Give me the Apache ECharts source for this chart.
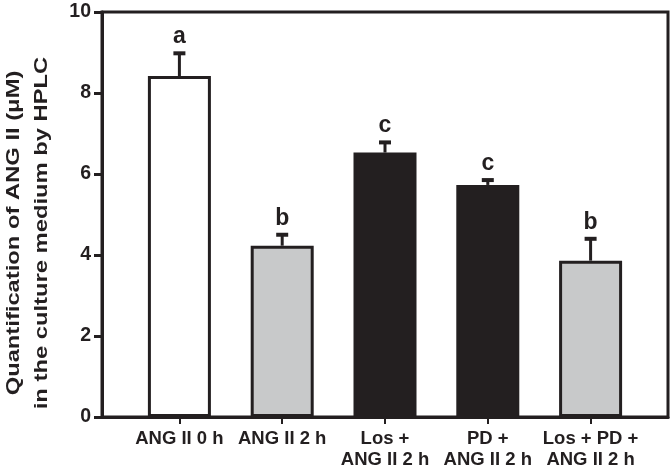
<!DOCTYPE html>
<html>
<head>
<meta charset="utf-8">
<script src="https://cdn.jsdelivr.net/npm/echarts@6/dist/echarts.min.js"></script>
<style>html,body{margin:0;padding:0;background:#fff;}#c{width:671px;height:474px;}</style>
</head>
<body>
<div id="c"></div>
<script>
var categories = ['ANG II 0 h', 'ANG II 2 h', 'Los +\nANG II 2 h', 'PD +\nANG II 2 h', 'Los + PD +\nANG II 2 h'];
var means = [8.42, 4.23, 6.53, 5.73, 3.86];
var errors = [0.56, 0.27, 0.25, 0.12, 0.54];
var letters = ['a', 'b', 'c', 'c', 'b'];
var fills = ['#ffffff', '#c8c9ca', '#231f20', '#231f20', '#c8c9ca'];
var yTicks = [0, 2, 4, 6, 8, 10];
var yTitle = 'Quantification of ANG II (μM)\nin the culture medium by HPLC';

var ink = '#231f20';
var font = 'Liberation Sans, Arial, sans-serif';
var chart = echarts.init(document.getElementById('c'));

var errData = means.map(function (m, i) { return [i, m, m + errors[i], letters[i]]; });

chart.setOption({
  animation: false,
  grid: [
    { left: 102, right: 3, top: 12, bottom: 57, show: true, borderColor: ink, borderWidth: 3, backgroundColor: 'transparent' },
    { left: 128, right: 29, top: 12, bottom: 57 }
  ],
  graphic: [
    { type: 'text', x: 28, y: 233, rotation: Math.PI / 2, scaleX: 1.32, scaleY: 1,
      style: { text: yTitle, fill: ink, font: 'bold 18px ' + font, lineHeight: 28, align: 'center', verticalAlign: 'middle' } }
  ],
  xAxis: [
    { gridIndex: 0, type: 'value', min: 0, max: 1, axisLine: { show: true, lineStyle: { color: ink, width: 3 } }, axisTick: { show: false }, axisLabel: { show: false }, splitLine: { show: false } },
    { gridIndex: 1, type: 'category', data: categories, axisLine: { show: false },
      axisTick: { show: true, alignWithLabel: true, length: 7, lineStyle: { color: ink, width: 2 } },
      axisLabel: { color: ink, fontFamily: font, fontWeight: 'bold', fontSize: 18.5, lineHeight: 21, margin: 11, interval: 0 } }
  ],
  yAxis: [
    { gridIndex: 0, type: 'value', min: 0, max: 10, interval: 2,
      axisLine: { show: true, lineStyle: { color: ink, width: 3 } },
      axisTick: { show: true, length: 8, lineStyle: { color: ink, width: 3 } },
      axisLabel: { color: ink, fontFamily: font, fontWeight: 'bold', fontSize: 19.5, margin: 11,
        formatter: function (v) { return yTicks.indexOf(v) >= 0 ? String(v) : ''; } },
      splitLine: { show: false } },
    { gridIndex: 1, type: 'value', min: 0, max: 10, show: false }
  ],
  series: [
    { type: 'bar', xAxisIndex: 1, yAxisIndex: 1, barWidth: 63, z: 3,
      data: means.map(function (m, i) { return { value: m, itemStyle: { color: fills[i] } }; }),
      itemStyle: { borderColor: ink, borderWidth: 3 } },
    { type: 'custom', xAxisIndex: 1, yAxisIndex: 1, z: 2, data: errData,
      renderItem: function (params, api) {
        var base = api.coord([api.value(0), api.value(1)]);
        var top = api.coord([api.value(0), api.value(2)]);
        var hw = 6;
        return { type: 'group', children: [
          { type: 'line', shape: { x1: base[0], y1: base[1], x2: top[0], y2: top[1] }, style: { stroke: ink, lineWidth: 3 } },
          { type: 'line', shape: { x1: top[0] - hw, y1: top[1], x2: top[0] + hw, y2: top[1] }, style: { stroke: ink, lineWidth: 4 } },
          { type: 'text', style: { text: api.value(3), x: top[0], y: top[1] - 5, align: 'center', verticalAlign: 'bottom', fill: ink, font: 'bold 23px ' + font } }
        ] };
      } }
  ]
});
</script>
</body>
</html>
